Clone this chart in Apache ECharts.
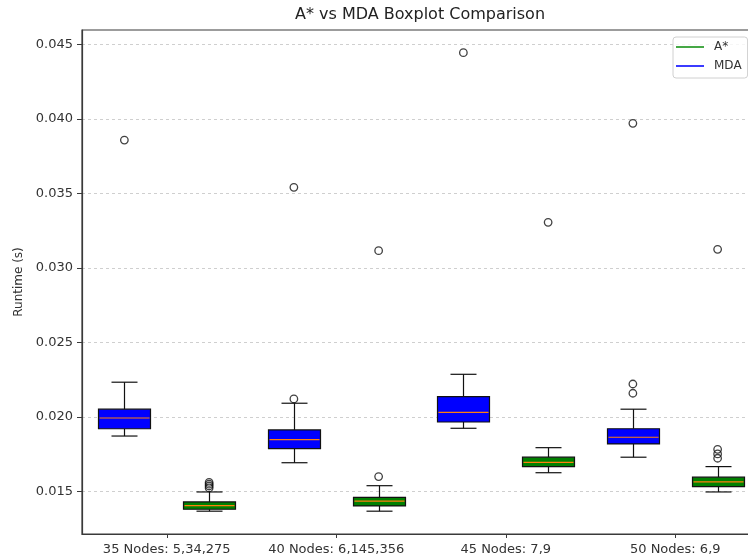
<!DOCTYPE html>
<html>
<head>
<meta charset="utf-8">
<script src="https://cdn.jsdelivr.net/npm/echarts@6/dist/echarts.min.js"></script>
<style>html,body{margin:0;padding:0;background:#fff;}#chart{width:748px;height:558px;}</style>
</head>
<body>
<div id="chart"></div>
<script>
// ---- data ----
const categories = ['35 Nodes: 5,34,275', '40 Nodes: 6,145,356', '45 Nodes: 7,9', '50 Nodes: 6,9'];
// [lower whisker, Q1, median, Q3, upper whisker]
const mdaStats = [
  [0.01873, 0.01922, 0.01994, 0.02053, 0.02234],
  [0.01694, 0.01788, 0.01849, 0.01914, 0.02093],
  [0.01925, 0.01967, 0.02032, 0.02137, 0.02287],
  [0.01731, 0.01820, 0.01865, 0.01922, 0.02053]
];
const astarStats = [
  [0.01369, 0.01382, 0.01406, 0.01431, 0.01498],
  [0.01369, 0.01404, 0.01436, 0.01462, 0.01540],
  [0.01627, 0.01668, 0.01697, 0.01731, 0.01795],
  [0.01498, 0.01534, 0.01565, 0.01597, 0.01668]
];
const mdaOutliers = [
  [0.03858],
  [0.02122, 0.03541],
  [0.04444],
  [0.02160, 0.02222, 0.03970]
];
const astarOutliers = [
  [0.01525, 0.01538, 0.01550, 0.01562],
  [0.01601, 0.03116],
  [0.03306],
  [0.01724, 0.01753, 0.01784, 0.03125]
];
const yTicks = [0.015, 0.020, 0.025, 0.030, 0.035, 0.040, 0.045];

// ---- build ----
// box positions: MDA at 2i+1, A* at 2i+2; category tick between them
const mdaPos = i => 2 * i + 1;
const astarPos = i => 2 * i + 2;
const tickPos = categories.map((c, i) => 2 * i + 1.5);

const BOX_W = 52, CAP_W = 26;
const MDA_COLOR = '#0000ff', ASTAR_COLOR = '#008000', MEDIAN_COLOR = '#ff7f0e';
const AXIS_COLOR = '#3a3a3a', TEXT_COLOR = '#333';

function boxRenderer(fill) {
  return function (params, api) {
    const x = api.value(0);
    const lo = api.coord([x, api.value(1)]);
    const q1 = api.coord([x, api.value(2)]);
    const md = api.coord([x, api.value(3)]);
    const q3 = api.coord([x, api.value(4)]);
    const hi = api.coord([x, api.value(5)]);
    const cx = Math.round(lo[0]) + 0.5;
    const hw = BOX_W / 2, cw = CAP_W / 2;
    const line = (x1, y1, x2, y2, color) => ({
      type: 'line', shape: { x1, y1, x2, y2 },
      style: { stroke: color || '#111', lineWidth: 1.2 }
    });
    return {
      type: 'group',
      children: [
        line(cx, q1[1], cx, lo[1]),
        line(cx, q3[1], cx, hi[1]),
        line(cx - cw, lo[1], cx + cw, lo[1]),
        line(cx - cw, hi[1], cx + cw, hi[1]),
        {
          type: 'rect',
          shape: { x: cx - hw, y: q3[1], width: BOX_W, height: q1[1] - q3[1] },
          style: { fill: fill, stroke: '#111', lineWidth: 1.2 }
        },
        line(cx - hw + 1, md[1], cx + hw - 1, md[1], MEDIAN_COLOR)
      ]
    };
  };
}

const mdaData = mdaStats.map((s, i) => [mdaPos(i)].concat(s));
const astarData = astarStats.map((s, i) => [astarPos(i)].concat(s));
const outlierData = [];
mdaOutliers.forEach((arr, i) => arr.forEach(v => outlierData.push([mdaPos(i), v])));
astarOutliers.forEach((arr, i) => arr.forEach(v => outlierData.push([astarPos(i), v])));

const FONT = 'DejaVu Sans';
const chart = echarts.init(document.getElementById('chart'), null, { renderer: 'canvas' });
chart.setOption({
  animation: false,
  backgroundColor: '#fff',
  textStyle: { fontFamily: FONT },
  title: {
    text: 'A* vs MDA Boxplot Comparison',
    left: 420, top: 7, padding: 0, textAlign: 'center',
    textStyle: { fontFamily: FONT, fontSize: 16, fontWeight: 'normal', color: '#222' }
  },
  legend: {
    data: [
      { name: 'A*', itemStyle: { color: '#46a846' } },
      { name: 'MDA', itemStyle: { color: '#3b3bff' } }
    ],
    orient: 'vertical', left: 673, top: 37,
    icon: 'rect', itemWidth: 28, itemHeight: 2, itemGap: 7,
    padding: [4, 6, 6, 3],
    backgroundColor: 'rgba(255,255,255,0.8)', borderColor: '#d0d0d0', borderWidth: 1, borderRadius: 3,
    textStyle: { fontFamily: FONT, fontSize: 12, color: '#333', padding: [0, 0, 0, 5] }
  },
  grid: {
    left: 82, top: 30, bottom: 24, width: 678, containLabel: false,
    outerBoundsMode: 'none',
    show: true, borderColor: AXIS_COLOR, borderWidth: 1.2, backgroundColor: 'transparent'
  },
  xAxis: {
    type: 'value', min: 0.5, max: 8.5,
    axisLine: { show: true, onZero: false, lineStyle: { color: AXIS_COLOR, width: 1.2 } },
    axisTick: { show: true, length: 4, customValues: tickPos, lineStyle: { color: AXIS_COLOR } },
    axisLabel: {
      customValues: tickPos, margin: 9,
      fontFamily: FONT, fontSize: 13, color: TEXT_COLOR,
      formatter: v => categories[Math.round((v - 1.5) / 2)]
    },
    splitLine: { show: false }
  },
  yAxis: {
    type: 'value', min: 0.01216, max: 0.04596,
    name: 'Runtime (s)', nameLocation: 'middle', nameGap: 56, nameRotate: 90,
    nameTextStyle: { fontFamily: FONT, fontSize: 12, color: TEXT_COLOR },
    axisLine: { show: true, onZero: false, lineStyle: { color: AXIS_COLOR, width: 1.2 } },
    axisTick: { show: true, length: 5, customValues: yTicks, lineStyle: { color: AXIS_COLOR } },
    axisLabel: {
      customValues: yTicks, margin: 9,
      fontFamily: FONT, fontSize: 13, color: TEXT_COLOR,
      formatter: v => v.toFixed(3)
    },
    splitLine: { show: true, lineStyle: { color: '#cfcfcf', type: [3, 3], width: 1 } }
  },
  series: [
    {
      name: 'MDA', type: 'custom', renderItem: boxRenderer(MDA_COLOR),
      itemStyle: { color: MDA_COLOR },
      encode: { x: 0, y: [1, 2, 3, 4, 5] },
      data: mdaData, z: 2
    },
    {
      name: 'A*', type: 'custom', renderItem: boxRenderer(ASTAR_COLOR),
      itemStyle: { color: ASTAR_COLOR },
      encode: { x: 0, y: [1, 2, 3, 4, 5] },
      data: astarData, z: 2
    },
    {
      name: 'outliers', type: 'scatter', symbol: 'circle', symbolSize: 7.5,
      itemStyle: { color: 'rgba(0,0,0,0)', borderColor: '#111', borderWidth: 1.3 },
      data: outlierData, z: 3
    }
  ]
});
</script>
</body>
</html>
